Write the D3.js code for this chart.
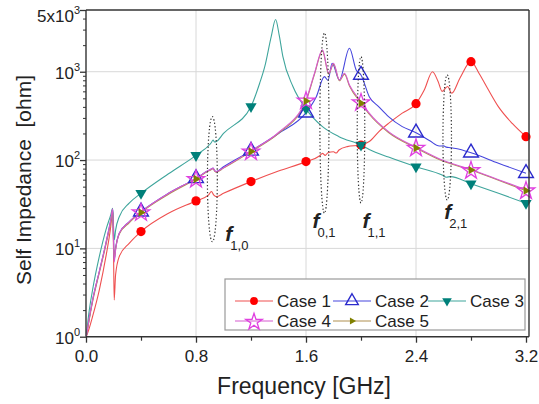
<!DOCTYPE html>
<html><head><meta charset="utf-8">
<script src="https://cdn.jsdelivr.net/npm/d3@7"></script>
<style>
html,body{margin:0;padding:0;background:#fff;}
svg{display:block;font-family:"Liberation Sans",Arial,sans-serif;}
</style></head>
<body><svg id="c" width="539" height="404"></svg>
<script>
// ---------------- data ----------------
const caseNames = ["Case 1","Case 2","Case 3","Case 4","Case 5"];
const markerFreq = [0.4,0.8,1.2,1.6,2.0,2.4,2.8,3.2];

const case1F = [0.002,0.02,0.048,0.097,0.145,0.18,0.194,0.2,0.205,0.215,0.242,0.314,0.4,0.6,0.8,0.89,0.912,0.93,0.948,1.0,1.2,1.4,1.6,1.7,1.72,1.74,1.76,1.8,1.82,1.84,1.9,2.0,2.06,2.13,2.2,2.3,2.4,2.46,2.52,2.56,2.59,2.63,2.66,2.72,2.8,2.86,2.92,3.0,3.1,3.2];
const case1Z = [1.0,1.2,1.7,3.4,8.1,17.6,27,10,2.6,5.0,8.1,11.4,15.5,25,34.5,40,44,40,38.5,42,57,75,96,112,119,113,121,124,120,130,142,148,162,210,260,340,435,620,1000,780,600,680,570,850,1300,950,650,400,260,184];
const case1M = [15.5,34.5,57,96,148,435,1300,184];

const case2F = [0.002,0.02,0.048,0.097,0.145,0.18,0.194,0.2,0.205,0.215,0.242,0.314,0.4,0.6,0.8,0.89,0.912,0.924,0.936,0.948,1.0,1.2,1.4,1.6,1.675,1.734,1.76,1.79,1.843,1.916,1.965,2.0,2.06,2.13,2.2,2.3,2.4,2.5,2.57,2.6,2.62,2.65,2.69,2.8,3.0,3.2];
const case2Z = [1.0,1.5,2.6,5.5,11.5,21,28,14,7.5,10,14.8,20,26,42,62,76,79,81,76,74,84,127,200,344,522,880,800,1250,807,1845,1047,920,522,400,310,239,204,165,144,145,140,138,135,121,92,71];
const case2M = [26,62,127,344,920,204,121,71];

const case3F = [0.002,0.02,0.048,0.097,0.145,0.18,0.194,0.2,0.206,0.215,0.242,0.314,0.4,0.6,0.8,0.9,0.912,0.924,0.935,0.948,1.0,1.2,1.263,1.3,1.347,1.379,1.405,1.432,1.505,1.6,1.72,1.84,2.0,2.06,2.2,2.4,2.59,2.62,2.65,2.8,3.0,3.2];
const case3Z = [1.0,1.8,3.4,8.1,16.2,24,28.5,18,12.5,16,22.8,32.5,42,70,113,150,158,169,160,162,200,405,740,1140,2500,3900,2600,1480,680,380,239,184,148,132,108,84,67.6,64,65,54,42,32.5];
const case3M = [42,113,405,380,148,84,54,32.5];

const case4F = [0.002,0.02,0.048,0.097,0.145,0.18,0.194,0.2,0.205,0.215,0.242,0.314,0.4,0.6,0.8,0.89,0.912,0.924,0.936,0.948,1.0,1.2,1.4,1.6,1.662,1.72,1.765,1.8,1.843,1.88,1.916,2.0,2.06,2.2,2.4,2.59,2.8,3.0,3.2];
const case4Z = [1.0,1.5,2.6,5.5,11.5,21,28,13,7,9.5,14.8,20,26,42,62,76,79,81,76,74,82,127,205,479,962,1766,960,1250,807,960,708,458,340,210,140,100,78,60,46];
const case4M = [26,62,127,479,458,140,78,46];

const case5F = [0.002,0.02,0.048,0.097,0.145,0.18,0.194,0.2,0.205,0.215,0.242,0.314,0.4,0.6,0.8,0.89,0.912,0.924,0.936,0.948,1.0,1.2,1.4,1.6,1.662,1.72,1.765,1.8,1.843,1.88,1.916,2.0,2.06,2.2,2.4,2.59,2.8,3.0,3.2];
const case5Z = [1.0,1.45,2.5,5.3,11,20,27,12,7.5,9.8,14.5,19.5,25.5,41,61,75,78,80,75,73,81,125,200,465,940,1720,940,1220,790,940,690,440,330,205,137,98,77,59,45];
const case5M = [25.5,61,125,465,440,137,77,45];

const xTickVals = [0.0,0.8,1.6,2.4,3.2];
const xTickLabels = ["0.0","0.8","1.6","2.4","3.2"];
const xMinorVals = [0.4,1.2,2.0,2.8];
const yTickVals = [1,10,100,1000,5000];
const yTickBase = ["10","10","10","10","5x10"];
const yTickExp = ["0","1","2","3","3"];

// resonance annotations
const annotFreq = [0.919,1.734,2.0,2.627];
const annotHalfW = [0.054,0.05,0.042,0.047];
const annotLo = [11.9,25,32.7,35.3];
const annotHi = [310,2750,1480,920];
const annotSub = ["1,0","0,1","1,1","2,1"];

// ---------------- layout / style ----------------
const L = 86, R = 526, T = 10, B = 336.7;
const svg = d3.select("#c");
const x = d3.scaleLinear().domain([0,3.2]).range([L,R]);
const y = d3.scaleLog().domain([1,5000]).range([B,T]);
const boxR = 529;

const styles = [
  {line:"#ef5050", mk:"circle", fill:"#ff0000", stroke:"none"},
  {line:"#4646dd", mk:"triUp", fill:"none", stroke:"#2a2acc"},
  {line:"#3fa59c", mk:"triDown", fill:"#00807a", stroke:"none"},
  {line:"#d65ad0", mk:"star", fill:"none", stroke:"#e040e0"},
  {line:"#b09050", mk:"triRight", fill:"#808000", stroke:"none"}
];
const series = [
  {F:case1F,Z:case1Z,M:case1M},
  {F:case2F,Z:case2Z,M:case2M},
  {F:case3F,Z:case3Z,M:case3M},
  {F:case4F,Z:case4Z,M:case4M},
  {F:case5F,Z:case5Z,M:case5M}
];

// grid
const grid = svg.append("g");
[0.8,1.6,2.4].forEach(v=>grid.append("line").attr("x1",x(v)).attr("x2",x(v)).attr("y1",T).attr("y2",B).attr("stroke","#d8d8d8").attr("stroke-width",1));
[10,100,1000].forEach(v=>grid.append("line").attr("x1",L).attr("x2",boxR).attr("y1",y(v)).attr("y2",y(v)).attr("stroke","#d8d8d8").attr("stroke-width",1));

// clip
svg.append("defs").append("clipPath").attr("id","clip").append("rect")
  .attr("x",L).attr("y",T).attr("width",boxR-L).attr("height",B-T);

const line = d3.line().x(d=>x(d[0])).y(d=>y(d[1])).curve(d3.curveMonotoneX);
const plot = svg.append("g").attr("clip-path","url(#clip)");
[0,1,2,4,3].forEach(i=>{
  const s = series[i];
  plot.append("path").datum(s.F.map((f,j)=>[f,s.Z[j]]))
    .attr("d",line).attr("fill","none").attr("stroke",styles[i].line).attr("stroke-width",1.1);
});

function marker(g, type, cx, cy, st, scale){
  scale = scale||1;
  if(type==="circle"){
    g.append("circle").attr("cx",cx).attr("cy",cy).attr("r",4.6*scale).attr("fill",st.fill);
  } else if(type==="triUp"){
    g.append("path").attr("d",d3.symbol(d3.symbolTriangle,95*scale*scale)()).attr("transform",`translate(${cx},${cy})`)
      .attr("fill","none").attr("stroke",st.stroke).attr("stroke-width",1.4);
  } else if(type==="triDown"){
    g.append("path").attr("d",d3.symbol(d3.symbolTriangle,55*scale*scale)()).attr("transform",`translate(${cx},${cy}) rotate(180)`)
      .attr("fill",st.fill);
  } else if(type==="star"){
    g.append("path").attr("d",d3.symbol(d3.symbolStar,95*scale*scale)()).attr("transform",`translate(${cx},${cy+1})`)
      .attr("fill","none").attr("stroke",st.stroke).attr("stroke-width",1.3);
  } else if(type==="triRight"){
    g.append("path").attr("d",d3.symbol(d3.symbolTriangle,30*scale*scale)()).attr("transform",`translate(${cx},${cy}) rotate(90)`)
      .attr("fill",st.fill);
  }
}
const mk = svg.append("g");
series.forEach((s,i)=>{
  markerFreq.forEach((f,j)=>marker(mk, styles[i].mk, x(f), y(s.M[j]), styles[i]));
});

// annotations (dotted ellipses)
const ann = svg.append("g");
const labelOff = [[13,-1],[-12,15],[1.5,25],[-3,19]];
annotFreq.forEach((f,i)=>{
  const cx = x(f), rx = x(f+annotHalfW[i]) - x(f) - 0.5;
  const yTop = y(annotHi[i]), yBot = y(annotLo[i]);
  ann.append("ellipse").attr("cx",cx).attr("cy",(yTop+yBot)/2).attr("rx",rx/1.4).attr("ry",(yBot-yTop)/2)
    .attr("fill","none").attr("stroke","#333").attr("stroke-width",1.2).attr("stroke-dasharray","1.3,2.2");
  const lx = cx + labelOff[i][0], ly = yBot + labelOff[i][1];
  ann.append("text").attr("x",lx).attr("y",ly).attr("font-size",21).attr("font-style","italic").attr("font-weight","bold")
    .attr("fill","#222").text("f");
  ann.append("text").attr("x",lx+5).attr("y",ly+9).attr("font-size",13).attr("fill","#222").text(annotSub[i]);
});

// axes box
const ax = svg.append("g").attr("stroke","#333").attr("stroke-width",1.4);
ax.append("line").attr("x1",L).attr("x2",boxR).attr("y1",T).attr("y2",T);
ax.append("line").attr("x1",boxR).attr("x2",boxR).attr("y1",T).attr("y2",B);
ax.append("line").attr("x1",L).attr("x2",boxR).attr("y1",B).attr("y2",B);
ax.append("line").attr("x1",L).attr("x2",L).attr("y1",T).attr("y2",B);

// x ticks
const xa = svg.append("g").attr("transform",`translate(0,${B})`)
  .call(d3.axisBottom(x).tickValues(xTickVals).tickSize(6).tickFormat((d,i)=>xTickLabels[i]));
xa.select(".domain").remove();
xa.selectAll("line").attr("stroke","#333").attr("stroke-width",1.3);
xa.selectAll("text").attr("font-size",17).attr("fill","#222").attr("font-family","Liberation Sans, Arial").attr("dy","0.95em");
const xm = svg.append("g").attr("transform",`translate(0,${B})`)
  .call(d3.axisBottom(x).tickValues(xMinorVals).tickSize(4).tickFormat(""));
xm.select(".domain").remove();
xm.selectAll("line").attr("stroke","#333").attr("stroke-width",1.2);

// y ticks
const yMinor = [];
for(let e=0;e<4;e++) for(let k=2;k<=9;k++){ const v=k*Math.pow(10,e); if(v<5000) yMinor.push(v); }
const ym = svg.append("g").attr("transform",`translate(${L},0)`)
  .call(d3.axisLeft(y).tickValues(yMinor).tickSize(3).tickFormat(""));
ym.select(".domain").remove();
ym.selectAll("line").attr("stroke","#333").attr("stroke-width",1);
const yM = svg.append("g").attr("transform",`translate(${L},0)`)
  .call(d3.axisLeft(y).tickValues(yTickVals).tickSize(6).tickFormat(""));
yM.select(".domain").remove();
yM.selectAll("line").attr("stroke","#333").attr("stroke-width",1.3);
yTickVals.forEach((v,i)=>{
  const t = svg.append("text").attr("x",80).attr("y",y(v)+(i===4?12:7)).attr("text-anchor","end")
    .attr("font-size",17).attr("fill","#222");
  t.append("tspan").text(yTickBase[i]);
  t.append("tspan").attr("font-size",11).attr("dy",-8).text(yTickExp[i]);
});

// axis titles
svg.append("text").attr("x",304).attr("y",394).attr("text-anchor","middle").attr("font-size",23).attr("fill","#222").text("Frequency [GHz]");
svg.append("text").attr("transform","translate(31,180) rotate(-90)").attr("text-anchor","middle").attr("font-size",21).attr("fill","#222")
  .attr("xml:space","preserve").text("Self Impedance  [ohm]");

// legend
const lg = svg.append("g");
lg.append("rect").attr("x",225).attr("y",279).attr("width",300).attr("height",51).attr("fill","#fff").attr("stroke","#9a9a9a").attr("stroke-width",1.2);
const legPos = [[235,301],[333,301],[428,301],[235,321],[333,321]];
caseNames.forEach((n,i)=>{
  const [lx,ly] = legPos[i];
  lg.append("line").attr("x1",lx).attr("x2",lx+38).attr("y1",ly).attr("y2",ly).attr("stroke",styles[i].line).attr("stroke-width",1.1);
  marker(lg, styles[i].mk, lx+19, ly, styles[i], i===3?0.95:0.85);
  lg.append("text").attr("x",lx+42).attr("y",ly+6).attr("font-size",17).attr("fill","#222").text(n);
});
</script></body></html>
